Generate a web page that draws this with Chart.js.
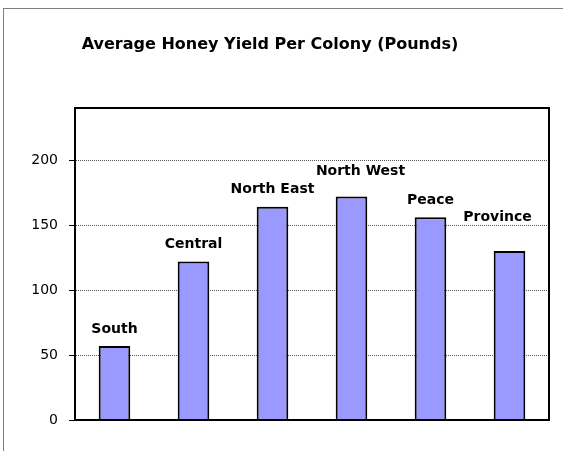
<!DOCTYPE html>
<html>
<head>
<meta charset="utf-8">
<script src="https://cdn.jsdelivr.net/npm/chart.js@4.4.1/dist/chart.umd.min.js"></script>
<style>
    body { margin: 0; background: #fff; overflow: hidden; }
    #wrap { position: relative; width: 563px; height: 451px; }
    #frame { position: absolute; left: 3px; top: 8px; width: 620px; height: 500px; border: 1px solid #808080; }
    canvas { position: absolute; left: 0; top: 0; }
</style>
</head>
<body>
<div id="wrap">
    <div id="frame"></div>
    <canvas id="honeyChart" width="563" height="451"></canvas>
</div>
<script>
const chartTitle = 'Average Honey Yield Per Colony (Pounds)';
const regions = ['South', 'Central', 'North East', 'North West', 'Peace', 'Province'];
const yieldPerColony = [57, 122, 164, 172, 156, 130];
const yTicks = [0, 50, 100, 150, 200];

// title + box around plot + region names over the bars
const decorPlugin = {
    id: 'decor',
    afterDraw(chart, args, opts) {
        const ctx = chart.ctx;
        const area = chart.chartArea;
        ctx.save();
        ctx.fillStyle = '#000';
        ctx.textAlign = 'center';
        ctx.textBaseline = 'middle';
        ctx.font = 'bold 16px "DejaVu Sans"';
        ctx.fillText(chartTitle, 270, 45);

        ctx.strokeStyle = '#000';
        ctx.lineWidth = 2;
        ctx.strokeRect(area.left, area.top, area.right - area.left, area.bottom - area.top);

        ctx.font = 'bold 14px "DejaVu Sans"';
        const meta = chart.getDatasetMeta(0);
        meta.data.forEach((bar, i) => {
            ctx.fillText(regions[i], bar.x + opts.dx[i], bar.y - 17 + opts.dy[i]);
        });
        ctx.restore();
    }
};

const ctx = document.getElementById('honeyChart').getContext('2d');
new Chart(ctx, {
    type: 'bar',
    data: {
        labels: regions,
        datasets: [{
            data: yieldPerColony,
            backgroundColor: '#9999ff',
            borderColor: '#000',
            borderWidth: 2,
            barPercentage: 0.4,
            categoryPercentage: 1
        }]
    },
    options: {
        responsive: false,
        animation: false,
        layout: { padding: { top: 108, right: 14, bottom: 23, left: 0 } },
        plugins: {
            legend: { display: false },
            tooltip: { enabled: false },
            decor: { dx: [0, 0, 0, 9, 0, -12], dy: [0, 0, 0, -8, 0, -17] }
        },
        scales: {
            x: {
                ticks: { display: false },
                grid: { display: false },
                border: { color: '#000', width: 2 }
            },
            y: {
                min: 0,
                max: 240,
                afterBuildTicks: scale => { scale.ticks = yTicks.map(v => ({ value: v })); },
                afterFit: scale => { scale.width = 75; },
                ticks: {
                    color: '#000',
                    padding: 11,
                    font: { family: '"DejaVu Sans"', size: 14 }
                },
                grid: {
                    color: '#555',
                    lineWidth: 1,
                    tickColor: '#000',
                    tickLength: 6,
                    tickBorderDash: []
                },
                border: { color: '#000', width: 2, dash: [1, 1] }
            }
        }
    },
    plugins: [decorPlugin]
});
</script>
</body>
</html>
